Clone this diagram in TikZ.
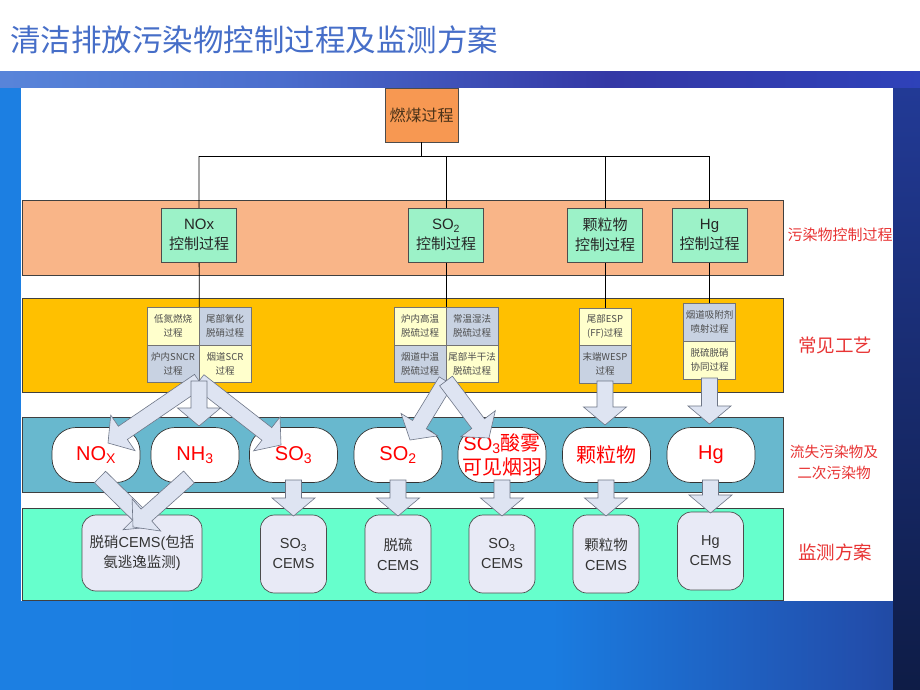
\documentclass[tikz,border=0pt]{standalone}
\usepackage{fontspec}
\setmainfont{Liberation Sans}
\newfontfamily\zh{Noto Sans CJK SC}
\usetikzlibrary{calc}
\definecolor{titleblue}{RGB}{70,110,200}
\definecolor{barA}{RGB}{110,170,238}
\definecolor{barB}{RGB}{75,110,205}
\definecolor{barC}{RGB}{52,56,165}
\definecolor{barD}{RGB}{38,80,215}
\definecolor{bgA}{RGB}{30,130,228}
\definecolor{bgB}{RGB}{26,124,224}
\definecolor{bgC}{RGB}{34,78,172}
\definecolor{bgD}{RGB}{20,42,100}
\definecolor{bgE}{RGB}{12,26,64}
\definecolor{stripTop}{RGB}{34,58,150}
\definecolor{stripBot}{RGB}{14,28,70}
\definecolor{bandA}{RGB}{249,181,136}
\definecolor{bandB}{RGB}{255,192,0}
\definecolor{bandC}{RGB}{104,184,206}
\definecolor{bandD}{RGB}{102,255,204}
\definecolor{ctrlgreen}{RGB}{156,242,200}
\definecolor{coalfill}{RGB}{247,152,82}
\definecolor{cellyellow}{RGB}{255,255,204}
\definecolor{cellblue}{RGB}{200,210,226}
\definecolor{cemsfill}{RGB}{232,234,246}
\definecolor{arrowfill}{RGB}{222,228,242}
\definecolor{arrowedge}{RGB}{110,118,135}
\definecolor{labelred}{RGB}{232,52,52}
\pgfdeclarehorizontalshading{barshade}{100bp}{color(0bp)=(barA); color(40bp)=(barB); color(58bp)=(barC); color(100bp)=(barD)}
\pgfdeclarehorizontalshading{bgshade}{100bp}{color(0bp)=(bgA); color(55bp)=(bgB); color(72bp)=(bgC); color(86bp)=(bgD); color(100bp)=(bgE)}
\tikzset{
  band/.style={draw=black!75, line width=0.6pt},
  tree/.style={draw=black, line width=0.8pt},
  coalbox/.style={draw=black!70, fill=coalfill, minimum width=73pt, minimum height=54pt, inner sep=0pt, text=brown!40!black, font=\zh\fontsize{16}{18}\selectfont},
  ctrlbox/.style={draw=black!70, fill=ctrlgreen, minimum width=75pt, minimum height=54pt, inner sep=0pt, align=center, text=black!85, font=\fontsize{15}{20}\selectfont},
  cellY/.style={draw=black!55, fill=cellyellow, minimum width=52pt, minimum height=37.5pt, inner sep=0pt, align=center, text=black!70, font=\zh\fontsize{9.5}{14}\selectfont},
  cellB/.style={cellY, fill=cellblue},
  pill/.style={draw=black!80, line width=0.7pt, fill=white, rounded corners=24pt, minimum width=88pt, minimum height=55pt, inner sep=0pt, align=center, text=red, font=\fontsize{20}{24}\selectfont},
  cems/.style={draw=black!70, line width=0.7pt, fill=cemsfill, rounded corners=14pt, minimum width=66pt, minimum height=78pt, inner sep=0pt, align=center, text=black!80, font=\fontsize{14.5}{20}\selectfont},
  blockarrow/.style={draw=arrowedge, fill=arrowfill, line width=0.6pt, line join=miter},
  side/.style={text=labelred, align=center, inner sep=0pt},
}
\newcommand\barrow[2]{%
  \coordinate (hb) at ($(#2)!18pt!(#1)$);
  \draw[blockarrow] ($(#1)!8pt!90:(#2)$)
    -- ($(hb)!8pt!-90:(#1)$)
    -- ($(hb)!21.5pt!-90:(#1)$)
    -- (#2)
    -- ($(hb)!21.5pt!90:(#1)$)
    -- ($(hb)!8pt!90:(#1)$)
    -- ($(#1)!8pt!-90:(#2)$) -- cycle;}
\begin{document}
\begin{tikzpicture}[x=1pt,y=-1pt]
\useasboundingbox (0,0) rectangle (920,690);
% background
\fill[white] (0,0) rectangle (920,72);
\shade[shading=bgshade] (0,86) rectangle (920,690);
\shade[top color=stripTop, bottom color=stripBot] (893,86) rectangle (920,690);
\shade[shading=barshade] (0,72) rectangle (920,88);
\fill[white] (21,88) rectangle (893,601);
\node[anchor=west, text=titleblue, font=\zh\fontsize{30.5}{32}\selectfont, inner sep=0pt] (title) at (10,40) {清洁排放污染物控制过程及监测方案};
% bands
\filldraw[band, fill=bandA] (22,200) rectangle (783,275);
\filldraw[band, fill=bandB] (22,298) rectangle (783,392);
\filldraw[band, fill=bandC] (22,417) rectangle (783,492);
\filldraw[band, fill=bandD] (22,508) rectangle (783,600);
% top node
\node[coalbox] (coal) at (421.5,115) {燃煤过程};
% band 2 cells
\node[cellY] (n11) at (173,326.25) {低氮燃烧\\过程};
\node[cellB] (n12) at (225,326.25) {尾部氧化\\脱硝过程};
\node[cellB] (n21) at (173,363.75) {炉内SNCR\\过程};
\node[cellY] (n22) at (225,363.75) {烟道SCR\\过程};
\node[cellY] (s11) at (420,326.25) {炉内高温\\脱硫过程};
\node[cellB] (s12) at (472,326.25) {常温湿法\\脱硫过程};
\node[cellB] (s21) at (420,363.75) {烟道中温\\脱硫过程};
\node[cellY] (s22) at (472,363.75) {尾部半干法\\脱硫过程};
\node[cellY] (p1) at (605,326.75) {尾部ESP\\(FF)过程};
\node[cellB] (p2) at (605,364.25) {末端WESP\\过程};
\node[cellB, minimum height=38pt] (h1) at (709.5,322) {烟道吸附剂\\喷射过程};
\node[cellY, minimum height=38pt] (h2) at (709.5,360) {脱硫脱硝\\协同过程};
% tree lines
\coordinate (busL) at (199,156);
\coordinate (busR) at (709.5,156);
\draw[tree] (coal.south) -- (coal.south |- busL);
\draw[tree] (busL) -- (busR);
\draw[tree] (busL) -- (n11.north east);
\draw[tree] (s11.north east |- busL) -- (s11.north east);
\draw[tree] (p1.north |- busL) -- (p1.north);
\draw[tree] (busR) -- (h1.north);
% band 1 boxes
\node[ctrlbox] (c1) at (199,235) {NOx\\{\zh 控制过程}};
\node[ctrlbox] (c2) at (446,235) {SO\textsubscript{2}\\{\zh 控制过程}};
\node[ctrlbox] (c3) at (605,235) {{\zh 颗粒物}\\{\zh 控制过程}};
\node[ctrlbox] (c4) at (709.5,235) {Hg\\{\zh 控制过程}};
% band 3 pills
\node[pill] (nox) at (96,455) {NO\textsubscript{X}};
\node[pill] (nh3) at (195,455) {NH\textsubscript{3}};
\node[pill] (so3) at (293.5,455) {SO\textsubscript{3}};
\node[pill] (so2) at (398,455) {SO\textsubscript{2}};
\node[pill] (acid) at (502,455) {SO\textsubscript{3}{\zh 酸雾}\\{\zh 可见烟羽}};
\node[pill] (pm) at (606.5,455) {\zh 颗粒物};
\node[pill] (hg) at (711,455) {Hg};
% band 4 boxes
\node[cems, minimum width=120pt, minimum height=76pt] (m1) at (142,553) {{\zh 脱硝}CEMS({\zh 包括}\\{\zh 氨逃逸监测})};
\node[cems] (m2) at (293.5,554) {SO\textsubscript{3}\\CEMS};
\node[cems] (m3) at (398,554) {{\zh 脱硫}\\CEMS};
\node[cems] (m4) at (502,554) {SO\textsubscript{3}\\CEMS};
\node[cems] (m5) at (606,554) {{\zh 颗粒物}\\CEMS};
\node[cems] (m6) at (710.5,551) {Hg\\CEMS};
% arrow end points
\coordinate (g1) at (199,381);
\coordinate (g2) at (446,381);
\coordinate (t1) at (108,443);
\coordinate (t2) at (199,426);
\coordinate (t3) at (281,445);
\coordinate (t4) at (410,440);
\coordinate (t5) at (489,438);
\coordinate (pa) at (605,381);
\coordinate (t6) at (605,425);
\coordinate (ha) at (709.5,378);
\coordinate (t7) at (709.5,424);
\coordinate (b1) at (100,477);
\coordinate (e1) at (151,527);
\coordinate (b2) at (189,477);
\coordinate (e2) at (133,527);
\coordinate (b3) at (293.5,480);
\coordinate (e3) at (293.5,516);
\coordinate (b4) at (398,480);
\coordinate (e4) at (398,516);
\coordinate (b5) at (502,480);
\coordinate (e5) at (502,516);
\coordinate (b6) at (606,480);
\coordinate (e6) at (606,516);
\coordinate (b7) at (710.5,480);
\coordinate (e7) at (710.5,513);
% block arrows
\barrow{g1}{t1}
\barrow{g1}{t3}
\barrow{g1}{t2}
\barrow{g2}{t4}
\barrow{g2}{t5}
\barrow{pa}{t6}
\barrow{ha}{t7}
\barrow{b1}{e1}
\barrow{b2}{e2}
\barrow{b3}{e3}
\barrow{b4}{e4}
\barrow{b5}{e5}
\barrow{b6}{e6}
\barrow{b7}{e7}
% side labels
\node[side, font=\zh\fontsize{15}{18}\selectfont] (l1) at (840,235) {污染物控制过程};
\node[side, font=\zh\fontsize{18.5}{20}\selectfont] (l2) at (835,345) {常见工艺};
\node[side, font=\zh\fontsize{14.7}{21}\selectfont] (l3) at (834,462) {流失污染物及\\二次污染物};
\node[side, font=\zh\fontsize{18.5}{20}\selectfont] (l4) at (835,552) {监测方案};
\end{tikzpicture}
\end{document}
